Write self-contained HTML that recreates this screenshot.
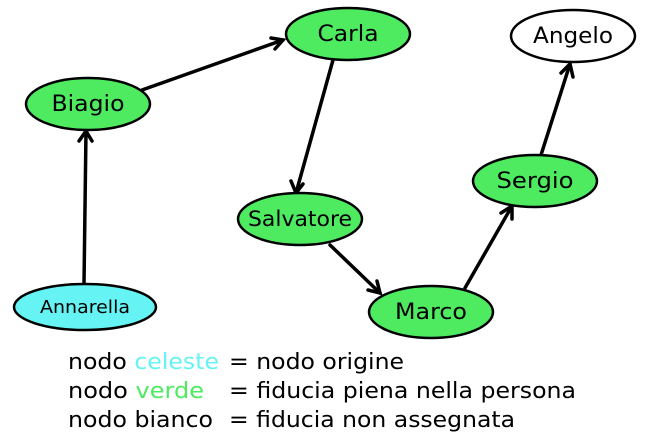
<!DOCTYPE html>
<html><head><meta charset="utf-8"><style>html,body{margin:0;padding:0;background:#fff;}svg{display:block}</style></head>
<body>
<svg width="647" height="439" viewBox="0 0 647 439" xmlns="http://www.w3.org/2000/svg" font-family="DejaVu Sans, Liberation Sans, sans-serif">
<g stroke="#000" stroke-width="3.5" fill="none" stroke-linecap="round" stroke-linejoin="miter">
<line x1="84" y1="284" x2="86" y2="131"/><polyline points="79,141 86,131 92,141"/>
<line x1="142" y1="90" x2="283" y2="40"/><polyline points="271,38 283,40 275,49"/>
<line x1="333" y1="60" x2="296" y2="193"/><polyline points="291,181 296,193 303,184"/>
<line x1="330" y1="245" x2="380" y2="293"/><polyline points="368,290 380,293 377,281"/>
<line x1="465" y1="288" x2="512" y2="206"/><polyline points="501,213 512,206 512,219"/>
<line x1="541" y1="155" x2="570" y2="64"/><polyline points="561,73 570,64 573,77"/>
</g>
<g stroke="#000" stroke-width="2.5">
<ellipse cx="348" cy="34" rx="62" ry="26" fill="#4eeb61"/>
<ellipse cx="573" cy="36" rx="62" ry="26" fill="#fff"/>
<ellipse cx="88" cy="104" rx="62" ry="26" fill="#4eeb61"/>
<ellipse cx="300" cy="219" rx="62" ry="26" fill="#4eeb61"/>
<ellipse cx="535" cy="181" rx="62" ry="26" fill="#4eeb61"/>
<ellipse cx="431" cy="312" rx="62" ry="26" fill="#4eeb61"/>
<ellipse cx="85" cy="307" rx="71" ry="23" fill="#66f3f3"/>
</g>
<g font-size="22" text-anchor="middle" fill="#000">
<text x="348" y="41" textLength="61" lengthAdjust="spacingAndGlyphs">Carla</text>
<text x="573" y="43" textLength="80" lengthAdjust="spacingAndGlyphs">Angelo</text>
<text x="88" y="111" textLength="73" lengthAdjust="spacingAndGlyphs">Biagio</text>
<text x="300" y="226" font-size="21" textLength="104" lengthAdjust="spacingAndGlyphs">Salvatore</text>
<text x="535" y="188" textLength="77" lengthAdjust="spacingAndGlyphs">Sergio</text>
<text x="431" y="319" textLength="72" lengthAdjust="spacingAndGlyphs">Marco</text>
<text x="85" y="313" font-size="18" textLength="90" lengthAdjust="spacingAndGlyphs">Annarella</text>
</g>
<g font-size="22" fill="#000">
<text x="68" y="369" textLength="151" lengthAdjust="spacingAndGlyphs">nodo <tspan fill="#66f3f3">celeste</tspan></text><text x="229" y="369" textLength="175" lengthAdjust="spacingAndGlyphs">= nodo origine</text>
<text x="68" y="398" textLength="136" lengthAdjust="spacingAndGlyphs">nodo <tspan fill="#4eeb61">verde</tspan></text><text x="229" y="398" textLength="347" lengthAdjust="spacingAndGlyphs">= fiducia piena nella persona</text>
<text x="68" y="427" textLength="145" lengthAdjust="spacingAndGlyphs">nodo bianco</text><text x="229" y="427" textLength="286" lengthAdjust="spacingAndGlyphs">= fiducia non assegnata</text>
</g>
</svg>
</body></html>
